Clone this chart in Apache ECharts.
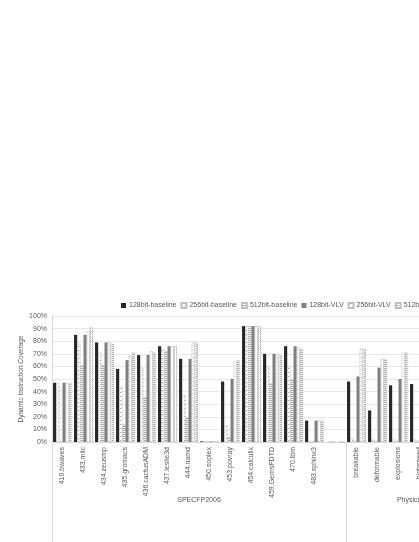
<!DOCTYPE html>
<html>
<head>
<meta charset="utf-8">
<script src="https://cdn.jsdelivr.net/npm/echarts@6/dist/echarts.min.js"></script>
<style>
  html, body { margin: 0; padding: 0; background: #fff; overflow: hidden; }
  #chart { width: 560px; height: 542px; }
</style>
</head>
<body>
<div id="chart"></div>
<script>
'use strict';

// benchmarks (the blank slot separates the two groups)
var categories = ['410.bwaves', '433.milc', '434.zeusmp', '435.gromacs', '436.cactusADM',
  '437.leslie3d', '444.namd', '450.soplex', '453.povray', '454.calculix', '459.GemsFDTD',
  '470.lbm', '483.sphinx3', '', 'breakable', 'deformable', 'explosions', 'highspeed',
  'periodic', 'ragdoll'];

var groupNames = ['SPECFP2006', 'Physics'];
var groupBounds = [0, 14, 20];

var base128 = [47, 85, 79, 58, 69, 76, 66, 0.5, 48, 92, 70, 76, 17, 0, 48, 25, 45, 46, 44, 47];
var base256 = [47, 78, 71, 44, 59, 73, 37, 0.5, 13, 92, 60, 60, 0.5, 0, 3, 2, 2, 2, 2, 2];
var base512 = [0, 61, 61, 14, 36, 72, 20, 0.5, 4, 92, 47, 50, 0, 0, 1, 1, 1, 1, 1, 1];
var vlv128 = [47, 85, 79, 65, 69, 76, 66, 0.5, 50, 92, 70, 76, 17, 0, 52, 59, 50, 50, 48, 50];
var vlv256 = [47, 88, 79, 68, 72, 76, 79, 0.5, 64, 92, 70, 75, 17, 0, 74, 66, 71, 70, 68, 70];
var vlv512 = [47, 91, 78, 71, 71, 76, 79, 0.5, 65, 92, 69, 74, 17, 0, 74, 66, 71, 70, 68, 70];

var yTicks = [0, 10, 20, 30, 40, 50, 60, 70, 80, 90, 100];

function pattern(kind) {
  var c = document.createElement('canvas');
  c.width = 4; c.height = 4;
  var g = c.getContext('2d');
  g.fillStyle = '#fff';
  g.fillRect(0, 0, 4, 4);
  g.fillStyle = '#a6a6a6';
  if (kind === 'dots') {
    g.fillRect(0, 0, 1, 1); g.fillRect(2, 2, 1, 1);
  } else if (kind === 'lines') {
    g.fillRect(0, 0, 4, 1); g.fillRect(0, 2, 4, 1);
  } else if (kind === 'sparse') {
    g.fillStyle = '#c8c8c8';
    g.fillRect(1, 1, 1, 1);
  } else if (kind === 'dash') {
    g.fillRect(0, 0, 3, 1); g.fillRect(0, 2, 3, 1);
  }
  return { image: c, repeat: 'repeat' };
}

var textColor = '#595959';
var lineColor = '#d9d9d9';

function bar(name, data, color, border) {
  return {
    name: name,
    type: 'bar',
    data: data,
    barGap: '0%',
    barCategoryGap: '10%',
    itemStyle: {
      color: color,
      borderColor: border || 'transparent',
      borderWidth: border ? 0.6 : 0
    },
    emphasis: { disabled: true }
  };
}

var chart = echarts.init(document.getElementById('chart'));
chart.setOption({
  animation: false,
  textStyle: { fontFamily: 'Liberation Sans, Arial, sans-serif' },
  legend: {
    top: 297,
    left: 116,
    icon: 'rect',
    itemWidth: 5,
    itemHeight: 5,
    itemGap: 4,
    textStyle: { fontSize: 7, color: textColor, padding: [0, 0, 0, -2] }
  },
  grid: { left: 52, top: 316, width: 420, height: 126, containLabel: false },
  xAxis: [{
    type: 'category',
    data: categories,
    axisLine: { lineStyle: { color: lineColor } },
    axisTick: { interval: 0, length: 51, lineStyle: { color: lineColor } },
    axisLabel: { interval: 0, rotate: 90, fontSize: 7, color: textColor, margin: 5 }
  }, {
    type: 'value',
    position: 'bottom',
    min: groupBounds[0],
    max: groupBounds[groupBounds.length - 1],
    axisLine: { show: false },
    splitLine: { show: false },
    axisTick: { customValues: groupBounds, length: 110, lineStyle: { color: lineColor } },
    axisLabel: {
      customValues: [7, 17],
      margin: 55,
      fontSize: 7,
      color: textColor,
      formatter: function (v) { return v < 14 ? groupNames[0] : groupNames[1]; }
    }
  }],
  yAxis: {
    type: 'value',
    min: 0,
    max: 100,
    interval: 10,
    name: 'Dynamic Instruction Coverage',
    nameLocation: 'middle',
    nameRotate: 90,
    nameGap: 27,
    nameMoveOverlap: false,
    nameTextStyle: { fontSize: 6.5, color: textColor },
    axisLine: { show: true, lineStyle: { color: lineColor } },
    axisTick: { show: false },
    axisLabel: { fontSize: 7, color: textColor, margin: 5, formatter: '{value}%',
      customValues: yTicks },
    splitLine: { lineStyle: { color: '#e9e9e9' } }
  },
  series: [
    bar('128bit-baseline', base128, '#262626'),
    bar('256bit-baseline', base256, pattern('dots'), '#bfbfbf'),
    bar('512bit-baseline', base512, pattern('lines'), '#bfbfbf'),
    bar('128bit-VLV', vlv128, '#808080'),
    bar('256bit-VLV', vlv256, pattern('sparse'), '#bfbfbf'),
    bar('512bit-VLV', vlv512, pattern('dash'), '#bfbfbf')
  ]
});
</script>
</body>
</html>
